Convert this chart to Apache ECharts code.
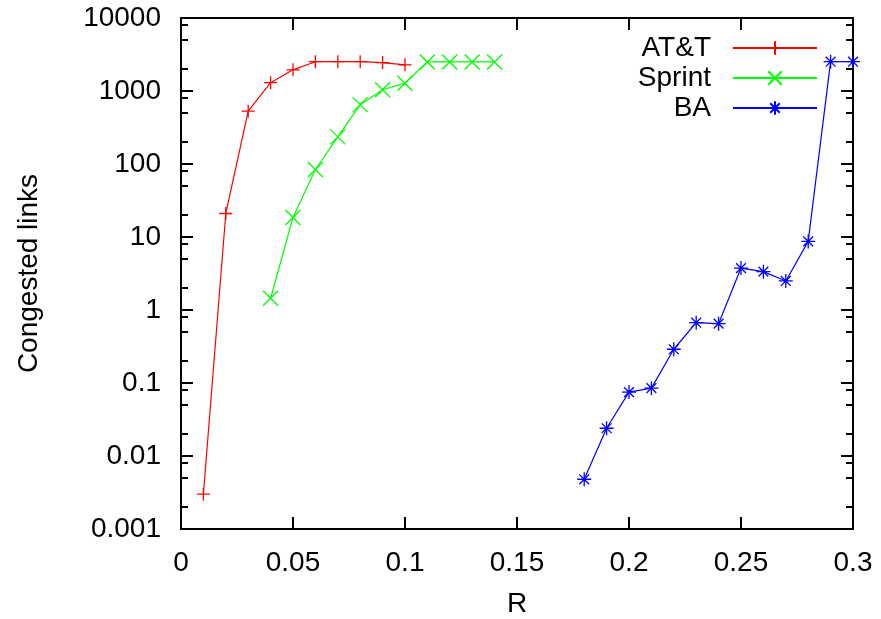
<!DOCTYPE html>
<html>
<head>
<meta charset="utf-8">
<title>Congested links vs R</title>
<script src="https://cdn.jsdelivr.net/npm/echarts@6/dist/echarts.min.js"></script>
<style>
  html, body { margin: 0; padding: 0; background: #fff; }
  #chart { width: 881px; height: 619px; }
</style>
</head>
<body>
<div id="chart"></div>
<script>
// values
var attR = [0.01, 0.02, 0.03, 0.04, 0.05, 0.06, 0.07, 0.08, 0.09, 0.10];
var attLinks = [0.003, 21, 530, 1300, 1950, 2520, 2520, 2520, 2450, 2280];

var sprintR = [0.04, 0.05, 0.06, 0.07, 0.08, 0.09, 0.10, 0.11, 0.12, 0.13, 0.14];
var sprintLinks = [1.45, 18.5, 84, 235, 650, 1040, 1280, 2500, 2500, 2500, 2500];

var baR = [0.18, 0.19, 0.20, 0.21, 0.22, 0.23, 0.24, 0.25, 0.26, 0.27, 0.28, 0.29, 0.30];
var baLinks = [0.0048, 0.024, 0.075, 0.085, 0.29, 0.67, 0.65, 3.75, 3.35, 2.5, 8.7, 2520, 2520];

// minor ticks at 2, 5, 8 of every decade (as in the original plot)
var decades = [-3, -2, -1, 0, 1, 2, 3];
var minorMult = [2, 5, 8];
var minorTicks = [];
decades.forEach(function (d) {
  minorMult.forEach(function (m) { minorTicks.push(d + Math.log10(m)); });
});

var FONT = 'Liberation Sans, Arial, Helvetica, sans-serif';
var FS = 28;

function axisLine(show) {
  return { show: show, onZero: false, lineStyle: { color: '#000', width: 2 } };
}
function ticks(len, custom) {
  var t = { show: true, inside: true, length: len, lineStyle: { color: '#000', width: 2 } };
  if (custom) t.customValues = custom;
  return t;
}

function pair(xs, ys) {
  return xs.map(function (x, i) { return [x, ys[i]]; });
}

function majorY(pos, labels) {
  return {
    type: 'log', position: pos, min: 0.001, max: 10000,
    axisLine: axisLine(true),
    axisTick: ticks(12),
    axisLabel: {
      show: labels, margin: 20, fontSize: FS, fontFamily: FONT, color: '#000',
      formatter: function (v) { return String(+(+v).toPrecision(4)); }
    },
    splitLine: { show: false }
  };
}

// linear axis over log10 range, only used to place the minor ticks
function minorY(pos) {
  return {
    type: 'value', position: pos, min: -3, max: 4,
    axisLine: axisLine(false),
    axisTick: ticks(7, minorTicks),
    axisLabel: { show: false },
    splitLine: { show: false }
  };
}

function xAxisDef(pos, labels) {
  return {
    type: 'value', position: pos, min: 0, max: 0.3, interval: 0.05,
    axisLine: axisLine(true),
    axisTick: ticks(12),
    axisLabel: { show: labels, margin: 20, fontSize: FS, fontFamily: FONT, color: '#000' },
    splitLine: { show: false }
  };
}

var chart = echarts.init(document.getElementById('chart'), null, { renderer: 'canvas' });

var plusSym = 'path://M0,5L10,5M5,0L5,10';
var crossSym = 'path://M0,0L10,10M0,10L10,0';
var starSym = 'path://M0,5L10,5M5,0L5,10M1.5,1.5L8.5,8.5M1.5,8.5L8.5,1.5';

function lineSeries(name, data, color, sym, size) {
  return {
    name: name, type: 'line', data: data,
    xAxisIndex: 0, yAxisIndex: 0,
    symbol: sym, symbolSize: size, showAllSymbol: true,
    lineStyle: { color: color, width: 1.2 },
    itemStyle: { color: color, borderColor: color, borderWidth: 1.3 },
    emphasis: { disabled: true },
    animation: false
  };
}

var xBottom = xAxisDef('bottom', true);
xBottom.name = 'R';
xBottom.nameLocation = 'middle';
xBottom.nameGap = 61;
xBottom.nameTextStyle = { fontSize: FS, fontFamily: FONT, color: '#000' };

var yLeft = majorY('left', true);
yLeft.name = 'Congested links';
yLeft.nameLocation = 'middle';
yLeft.nameGap = 138;
yLeft.nameTextStyle = { fontSize: FS, fontFamily: FONT, color: '#000' };

chart.setOption({
  animation: false,
  textStyle: { fontFamily: FONT },
  grid: { left: 181, right: 28, top: 18, bottom: 90, outerBoundsMode: 'none' },
  legend: {
    orient: 'vertical', align: 'right',
    right: 63, top: 33, padding: 0,
    itemWidth: 84, itemHeight: 17, itemGap: 0,
    textStyle: { fontSize: FS, fontFamily: FONT, color: '#000', lineHeight: 30, padding: [0, 17, 0, 0] },
    data: ['AT&T', 'Sprint', 'BA']
  },
  xAxis: [xBottom, xAxisDef('top', false)],
  yAxis: [yLeft, minorY('left'), majorY('right', false), minorY('right')],
  series: [
    lineSeries('AT&T', pair(attR, attLinks), '#ff0000', plusSym, 13),
    lineSeries('Sprint', pair(sprintR, sprintLinks), '#00ff00', crossSym, 15),
    lineSeries('BA', pair(baR, baLinks), '#0000ff', starSym, 14)
  ]
});
</script>
</body>
</html>
